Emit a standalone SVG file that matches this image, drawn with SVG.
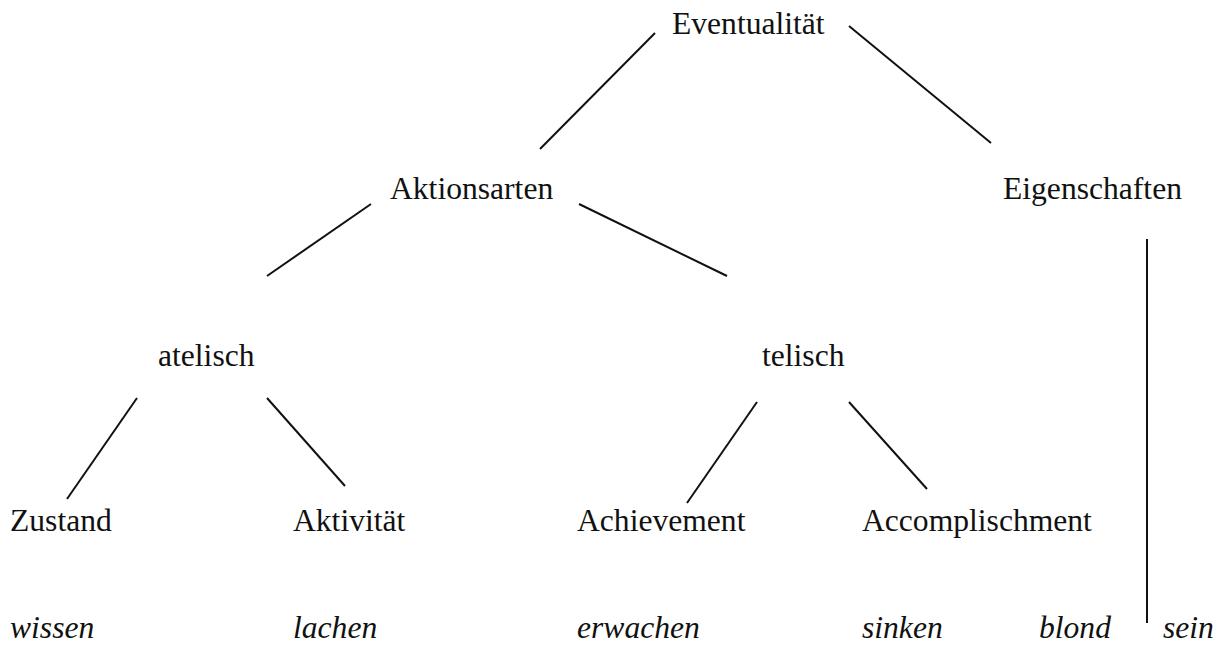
<svg xmlns="http://www.w3.org/2000/svg" width="1228" height="645" viewBox="0 0 1228 645">
  <style>
    text { font-family: "Liberation Serif", "Times New Roman", serif; font-size: 31.6px; fill: #111; }
    .ex { font-style: italic; }
    .edge { stroke: #111; stroke-width: 2; fill: none; }
  </style>
  <rect width="1228" height="645" fill="#fff"/>

  <!-- tree edges -->
  <g id="connectors">
    <line class="edge" x1="655" y1="33" x2="540" y2="149"/>
    <line class="edge" x1="849" y1="26" x2="991" y2="143"/>
    <line class="edge" x1="371" y1="204" x2="267" y2="276"/>
    <line class="edge" x1="579" y1="204" x2="727" y2="276"/>
    <line class="edge" x1="137" y1="398" x2="67" y2="499"/>
    <line class="edge" x1="267" y1="398" x2="345" y2="486"/>
    <line class="edge" x1="757" y1="402" x2="687" y2="503"/>
    <line class="edge" x1="849" y1="402" x2="927" y2="489"/>
    <line class="edge" x1="1147" y1="239" x2="1147" y2="623"/>
  </g>

  <!-- category nodes -->
  <g id="eventualitaet"><text x="672" y="34">Eventualität</text></g>
  <g id="aktionsarten"><text x="390" y="199">Aktionsarten</text></g>
  <g id="eigenschaften"><text x="1003" y="199">Eigenschaften</text></g>
  <g id="atelisch"><text x="158" y="366">atelisch</text></g>
  <g id="telisch"><text x="762" y="366">telisch</text></g>
  <g id="zustand"><text x="10" y="531">Zustand</text></g>
  <g id="aktivitaet"><text x="293" y="531">Aktivität</text></g>
  <g id="achievement"><text x="577" y="531">Achievement</text></g>
  <g id="accomplischment"><text x="862" y="531">Accomplischment</text></g>

  <!-- example verbs -->
  <g id="wissen"><text class="ex" x="10" y="638">wissen</text></g>
  <g id="lachen"><text class="ex" x="293" y="638">lachen</text></g>
  <g id="erwachen"><text class="ex" x="577" y="638">erwachen</text></g>
  <g id="sinken"><text class="ex" x="862" y="638">sinken</text></g>
  <g id="blond"><text class="ex" x="1039" y="638">blond</text></g>
  <g id="sein"><text class="ex" x="1163" y="638">sein</text></g>
</svg>
